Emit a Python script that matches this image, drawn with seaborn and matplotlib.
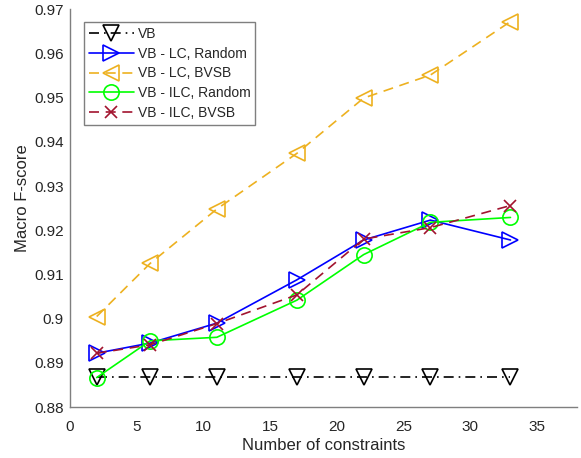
import pandas as pd
import matplotlib
matplotlib.use("Agg")
import matplotlib.pyplot as plt
import seaborn as sns
from matplotlib.ticker import FuncFormatter

# ---- data ----------------------------------------------------------------
constraints = [2, 6, 11, 17, 22, 27, 33]
vb = [0.8869, 0.8869, 0.8869, 0.8869, 0.8869, 0.8869, 0.8869]
lc_random = [0.8922, 0.8945, 0.8990, 0.9088, 0.9178, 0.9223, 0.9178]
lc_bvsb = [0.9005, 0.9125, 0.9248, 0.9374, 0.9499, 0.9551, 0.9672]
ilc_random = [0.8867, 0.8950, 0.8958, 0.9042, 0.9145, 0.9218, 0.9229]
ilc_bvsb = [0.8922, 0.8941, 0.8989, 0.9054, 0.9180, 0.9206, 0.9256]

# name, values, colour, marker, marker size, dash pattern
series = [
    ("VB", vb, "black", "v", 11.5, (6, 3, 1, 3)),
    ("VB - LC, Random", lc_random, "#0000FF", ">", 11.5, ""),
    ("VB - LC, BVSB", lc_bvsb, "#EDB120", "<", 11.5, (6, 4)),
    ("VB - ILC, Random", ilc_random, "#00FF00", "o", 11, ""),
    ("VB - ILC, BVSB", ilc_bvsb, "#A2142F", "x", 8, (6, 4)),
]

sns.set_style("white")
plt.rcParams["font.family"] = ["Liberation Sans", "DejaVu Sans"]
plt.rcParams["font.size"] = 10

axis_grey = "#7f7f7f"
text_col = "#262626"

fig = plt.figure(figsize=(5.81, 4.58), dpi=100)
ax = fig.add_axes([0.1205, 0.111, 0.873, 0.869])

for name, vals, col, mk, ms, dash in series:
    df = pd.DataFrame({"x": constraints, "y": vals})
    kw = dict(color=col, marker=mk, markersize=ms, markerfacecolor="none",
              markeredgecolor=col, markeredgewidth=1.2, linewidth=1.2, label=name)
    if dash:
        kw["dashes"] = dash
    sns.lineplot(data=df, x="x", y="y", ax=ax, **kw)

ax.set_xlim(0, 38)
ax.set_ylim(0.88, 0.97)
ax.set_xticks(range(0, 36, 5))
ax.set_yticks([0.88 + 0.01 * i for i in range(10)])
ax.yaxis.set_major_formatter(FuncFormatter(lambda v, p: f"{v:.2f}".rstrip("0").rstrip(".")))

for s in ["top", "right"]:
    ax.spines[s].set_visible(False)
for s in ["left", "bottom"]:
    ax.spines[s].set_color(axis_grey)
    ax.spines[s].set_linewidth(1.0)
ax.tick_params(direction="in", length=4, width=1.0, color=axis_grey,
               labelcolor=text_col, labelsize=11)
ax.tick_params(axis="x", pad=9)
ax.tick_params(axis="y", pad=4.5)

ax.set_xlabel("Number of constraints", fontsize=12, color=text_col)
ax.set_ylabel("Macro F-score", fontsize=12, color=text_col)
ax.xaxis.set_label_coords(0.5, -0.078)
ax.yaxis.set_label_coords(-0.078, 0.524)

leg = ax.legend(loc="upper left", bbox_to_anchor=(0.027, 0.968), fontsize=10,
                handlelength=3.3, handletextpad=0.25, borderpad=0.35,
                labelspacing=0.42, borderaxespad=0, fancybox=False, framealpha=1)
leg.get_frame().set_edgecolor(axis_grey)
leg.get_frame().set_linewidth(1.0)
for t in leg.get_texts():
    t.set_color(text_col)

plt.savefig("out.png", dpi=100)
